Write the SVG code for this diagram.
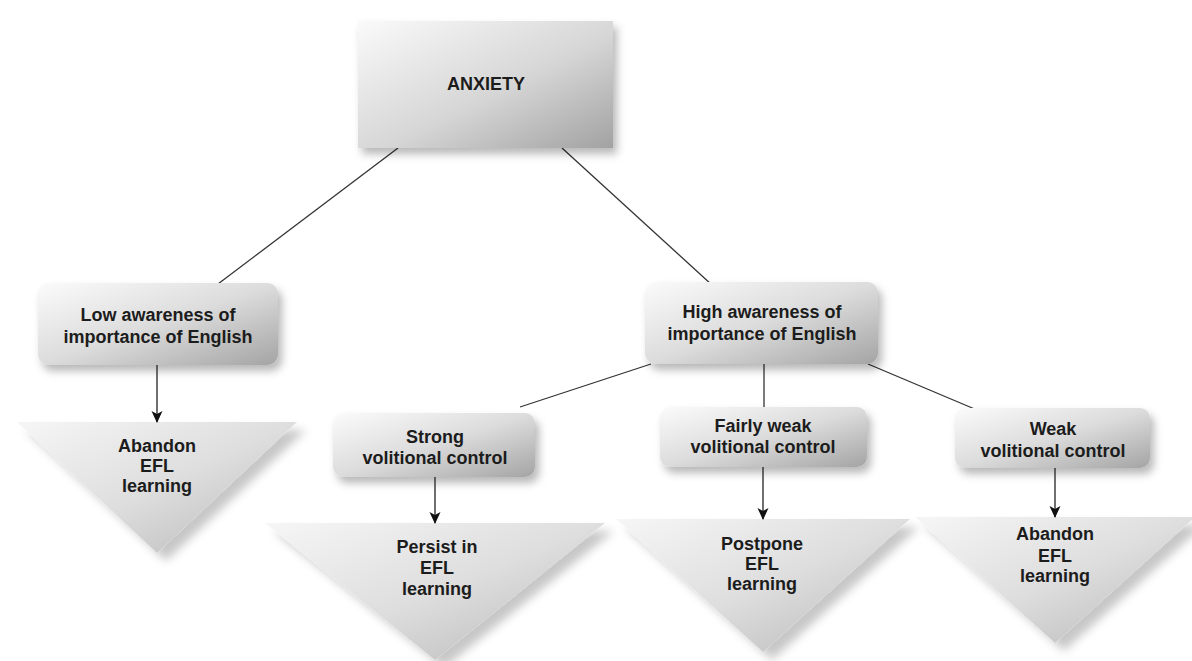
<svg xmlns="http://www.w3.org/2000/svg" width="1192" height="661" viewBox="0 0 1192 661">
<defs>
<linearGradient id="boxg" x1="0" y1="0" x2="1" y2="1">
<stop offset="0" stop-color="#fbfbfb"/>
<stop offset="0.5" stop-color="#dcdcdc"/>
<stop offset="1" stop-color="#a4a4a4"/>
</linearGradient>
<linearGradient id="topg" x1="0" y1="0" x2="1" y2="1">
<stop offset="0" stop-color="#fafafa"/>
<stop offset="0.55" stop-color="#d6d6d6"/>
<stop offset="1" stop-color="#a2a2a2"/>
</linearGradient>
<linearGradient id="trig" x1="0" y1="0" x2="1" y2="1">
<stop offset="0" stop-color="#f6f6f6"/>
<stop offset="0.5" stop-color="#dedede"/>
<stop offset="1" stop-color="#b6b6b6"/>
</linearGradient>
<filter id="sh" x="-20%" y="-20%" width="150%" height="160%">
<feDropShadow dx="4" dy="6" stdDeviation="4" flood-color="#000" flood-opacity="0.28"/>
</filter>
<filter id="tsh" x="-20%" y="-20%" width="150%" height="160%">
<feDropShadow dx="9" dy="8" stdDeviation="5" flood-color="#000" flood-opacity="0.22"/>
</filter>
<marker id="arr" markerWidth="12" markerHeight="12" refX="11" refY="6" orient="auto" markerUnits="userSpaceOnUse">
<path d="M0,0.5 L12,6 L0,11.5 L3,6 Z" fill="#111"/>
</marker>
</defs>
<style>
.t{font-family:"Liberation Sans",Arial,sans-serif;font-size:18px;font-weight:bold;fill:#1c1c1c;text-anchor:middle}
.box{fill:url(#boxg);filter:url(#sh)}
.tri{fill:url(#trig);filter:url(#tsh)}
.ln{stroke:#333;stroke-width:1.3;fill:none}
.ar{stroke:#222;stroke-width:1.3;fill:none;marker-end:url(#arr)}
</style>
<rect width="1192" height="661" fill="#fff"/>

<g id="connectors">
<line class="ln" x1="398" y1="148" x2="214" y2="287"/>
<line class="ln" x1="562" y1="148" x2="712" y2="285"/>
<line class="ln" x1="651" y1="364" x2="520" y2="407"/>
<line class="ln" x1="764" y1="364" x2="764" y2="407"/>
<line class="ln" x1="868" y1="364" x2="977" y2="410"/>
</g>

<g id="anxiety">
<rect x="358" y="21" width="255" height="127" fill="url(#topg)" filter="url(#sh)"/>
<text class="t" x="486" y="90">ANXIETY</text>
</g>

<g id="low">
<rect class="box" x="38" y="283" width="240" height="82" rx="11"/>
<text class="t" x="158" y="321">Low awareness of</text>
<text class="t" x="158" y="343">importance of English</text>
</g>

<g id="high">
<rect class="box" x="645" y="282" width="233" height="82" rx="11"/>
<text class="t" x="762" y="318">High awareness of</text>
<text class="t" x="762" y="340">importance of English</text>
</g>

<g id="strong">
<rect class="box" x="333" y="413" width="202" height="64" rx="10"/>
<text class="t" x="435" y="443">Strong</text>
<text class="t" x="435" y="464">volitional control</text>
</g>

<g id="fairly">
<rect class="box" x="660" y="407" width="207" height="60" rx="10"/>
<text class="t" x="763" y="432">Fairly weak</text>
<text class="t" x="763" y="453">volitional control</text>
</g>

<g id="weak">
<rect class="box" x="955" y="408" width="195" height="60" rx="10"/>
<text class="t" x="1053" y="435">Weak</text>
<text class="t" x="1053" y="457">volitional control</text>
</g>

<g id="tri-left">
<polygon class="tri" points="17,422 297,422 157,553"/>
<text class="t" x="157" y="452">Abandon</text>
<text class="t" x="157" y="472">EFL</text>
<text class="t" x="157" y="492">learning</text>
</g>

<g id="tri-persist">
<polygon class="tri" points="265,523 605,523 435,660"/>
<text class="t" x="437" y="553">Persist in</text>
<text class="t" x="437" y="574">EFL</text>
<text class="t" x="437" y="595">learning</text>
</g>

<g id="tri-postpone">
<polygon class="tri" points="616,519 910,519 763,652"/>
<text class="t" x="762" y="550">Postpone</text>
<text class="t" x="762" y="570">EFL</text>
<text class="t" x="762" y="590">learning</text>
</g>

<g id="tri-right">
<polygon class="tri" points="915,517 1195,517 1055,643"/>
<text class="t" x="1055" y="540">Abandon</text>
<text class="t" x="1055" y="562">EFL</text>
<text class="t" x="1055" y="582">learning</text>
</g>

<g id="arrows">
<line class="ar" x1="157" y1="365" x2="157" y2="422"/>
<line class="ar" x1="435" y1="477" x2="435" y2="523"/>
<line class="ar" x1="763" y1="467" x2="763" y2="519"/>
<line class="ar" x1="1055" y1="468" x2="1055" y2="517"/>
</g>
</svg>
